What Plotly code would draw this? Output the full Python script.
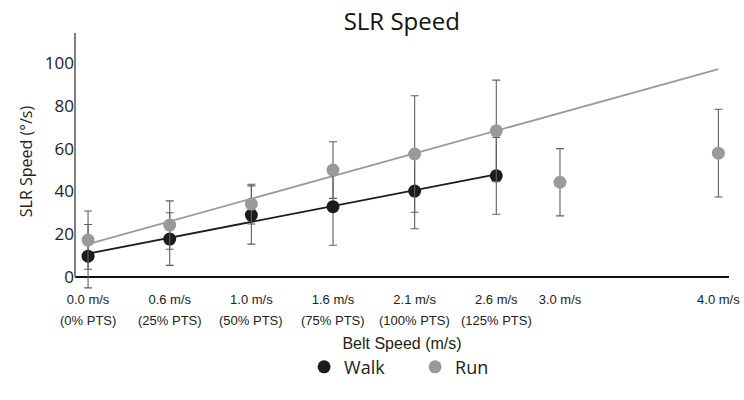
import numpy as np
import plotly.graph_objects as go

# ---- data ----
speed_labels = ["0.0 m/s", "0.6 m/s", "1.0 m/s", "1.6 m/s", "2.1 m/s", "2.6 m/s", "3.0 m/s", "4.0 m/s"]
pts_labels = ["(0% PTS)", "(25% PTS)", "(50% PTS)", "(75% PTS)", "(100% PTS)", "(125% PTS)", "", ""]
x_vals = [0, 1, 2, 3, 4, 5, 5.78, 7.72]

walk_mean = [9.8, 17.8, 29.0, 32.9, 40.2, 47.3]
walk_sd = [14.8, 12.3, 13.6, 18.0, 17.6, 17.9]

run_mean = [17.3, 24.3, 34.1, 50.0, 57.5, 68.3, 44.3, 57.9]
run_sd = [13.6, 11.3, 9.3, 13.2, 27.2, 23.7, 15.7, 20.5]

WALK_C = "#1c1c1c"
RUN_C = "#9a9a9a"
ERR_C = "#5f5f5f"
FONT = "Open Sans"
NARROW = "Liberation Sans Narrow, Liberation Sans, sans-serif"

fig = go.Figure()

# trendlines (linear fits over walk/run-speed conditions)
xw = np.array(x_vals[:len(walk_mean)])
kw, bw = np.polyfit(xw, walk_mean, 1)
xr = np.array(x_vals[:6])
kr, br = np.polyfit(xr, run_mean[:6], 1)
xr_line = np.array([x_vals[0], x_vals[-1]])
xw_line = np.array([x_vals[0], x_vals[len(walk_mean) - 1]])

fig.add_trace(go.Scatter(x=xr_line, y=kr * xr_line + br, mode="lines",
                         line=dict(color=RUN_C, width=1.8), showlegend=False, hoverinfo="skip"))
fig.add_trace(go.Scatter(x=xw_line, y=kw * xw_line + bw, mode="lines",
                         line=dict(color=WALK_C, width=1.8), showlegend=False, hoverinfo="skip"))

fig.add_trace(go.Scatter(
    x=x_vals[:len(walk_mean)], y=walk_mean, mode="markers", name="Walk",
    marker=dict(color=WALK_C, size=13),
    error_y=dict(type="data", array=walk_sd, visible=True, color=ERR_C, thickness=1.1, width=4),
))
fig.add_trace(go.Scatter(
    x=x_vals, y=run_mean, mode="markers", name="Run",
    marker=dict(color=RUN_C, size=13),
    error_y=dict(type="data", array=run_sd, visible=True, color=ERR_C, thickness=1.1, width=4),
))

# y axis line from 0 upwards
fig.add_shape(type="line", xref="paper", yref="y", x0=0, x1=0, y0=0, y1=114,
              line=dict(color="#7f7f7f", width=2))

# second line of x tick labels
for xv, lab in zip(x_vals, pts_labels):
    if lab:
        fig.add_annotation(x=xv, xref="x", y=-0.118, yref="paper", text=lab, showarrow=False,
                           font=dict(family=NARROW, size=13, color="#222"), yanchor="middle")

fig.update_layout(
    width=744, height=400,
    margin=dict(l=75, r=15, t=33, b=110),
    paper_bgcolor="white", plot_bgcolor="white",
    title=dict(text="SLR Speed", x=0.54, xanchor="center", y=0.945, yanchor="middle",
               font=dict(family=FONT, size=24, color="#111")),
    xaxis=dict(range=[-0.16, 7.85], tickmode="array", tickvals=x_vals, ticktext=speed_labels,
               showgrid=False, zeroline=False, showline=False, ticks="", automargin=False,
               tickfont=dict(family=NARROW, size=13, color="#222"),
               title=dict(text="Belt Speed (m/s)", standoff=31,
                          font=dict(family=NARROW, size=16, color="#222"))),
    yaxis=dict(range=[-6, 114], tickvals=[0, 20, 40, 60, 80, 100], showgrid=False,
               zeroline=True, zerolinecolor="#111", zerolinewidth=1.5, showline=False,
               ticks="", automargin=False, tickfont=dict(family=FONT, size=17, color="#222"),
               title=dict(text="SLR Speed (°/s)", standoff=8,
                          font=dict(family=FONT, size=16, color="#222"))),
    legend=dict(orientation="h", x=0.52, xanchor="center", y=-0.3, yanchor="middle",
                font=dict(family=FONT, size=18, color="#222"), itemwidth=30,
                entrywidth=66),
)

fig.write_html("out.html", post_script="document.body.style.margin='0';",
               config={"displayModeBar": False})
